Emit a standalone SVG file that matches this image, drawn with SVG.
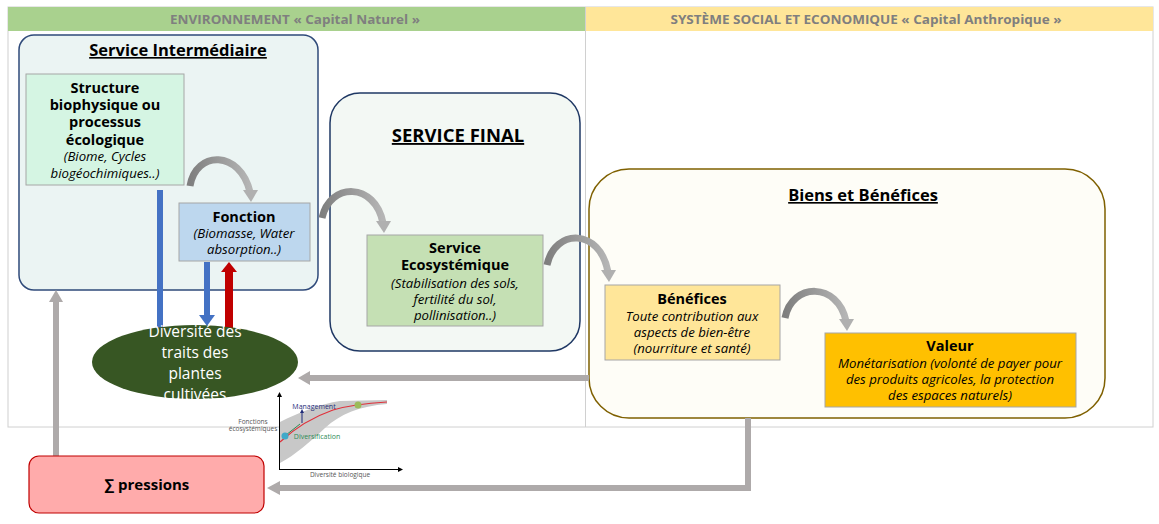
<svg xmlns="http://www.w3.org/2000/svg" width="1159" height="524" viewBox="0 0 1159 524">
<defs>
<style>
text{font-family:"Open Sans","Noto Sans","DejaVu Sans",sans-serif;text-anchor:middle;fill:#000}
.b{font-weight:bold;font-size:14.5px}
.i{font-style:italic;font-size:13.2px}
.t{font-weight:bold;font-size:16.5px;text-decoration:underline}
.hd{font-weight:bold;font-size:12.5px;fill:#7f7f7f}
.box{stroke:#a6a6a6;stroke-width:1}
.curve{fill:none;stroke:url(#cg);stroke-width:7}
.ga{fill:none;stroke:#aeaaaa;stroke-width:6}
.sm{font-size:6.5px;fill:#555}
.w{fill:#fff;font-size:15.5px}
</style>
<linearGradient id="cg" x1="0" y1="0" x2="1" y2="0">
<stop offset="0" stop-color="#7f7f7f"/>
<stop offset="1" stop-color="#b5b5b5"/>
</linearGradient>
</defs>

<g id="table">
<rect x="8" y="7" width="1145" height="420" fill="#fff" stroke="#d0d0d0"/>
<rect x="8" y="7" width="577" height="24" fill="#a9d18e"/>
<rect x="586" y="7" width="567" height="24" fill="#ffe699"/>
<line x1="585.5" y1="7" x2="585.5" y2="427" stroke="#d0d0d0"/>
<text class="hd" x="295" y="24" textLength="250" lengthAdjust="spacingAndGlyphs">ENVIRONNEMENT « Capital Naturel »</text>
<text class="hd" x="866" y="24" textLength="391" lengthAdjust="spacingAndGlyphs">SYSTÈME SOCIAL ET ECONOMIQUE « Capital Anthropique »</text>
</g>

<g id="service-intermediaire">
<rect x="19" y="35" width="299" height="255" rx="15" fill="#ebf4f3" stroke="#2f4a7a" stroke-width="1.5"/>
<text class="t" x="178" y="56">Service Intermédiaire</text>
</g>

<g id="service-final">
<rect x="330" y="93" width="250" height="258" rx="30" fill="#f3f8f4" stroke="#1f3864" stroke-width="1.5"/>
<text class="t" x="458" y="142" style="font-size:18.5px">SERVICE FINAL</text>
</g>

<g id="biens-benefices">
<rect x="589" y="169" width="516" height="249" rx="40" fill="#fefdf7" stroke="#7f6000" stroke-width="1.5"/>
<text class="t" x="863" y="201">Biens et Bénéfices</text>
</g>

<g id="connectors">
<rect x="157" y="190" width="6" height="138" fill="#4472c4"/>
<rect x="204" y="262" width="6" height="54" fill="#4472c4"/>
<polygon points="199,315 215,315 207,326" fill="#4472c4"/>
<rect x="225" y="272" width="8" height="58" fill="#c00000"/>
<polygon points="221,272 237,272 229,262" fill="#c00000"/>
<path class="curve" d="M190,186 C196,150 240,150 250,192"/>
<polygon points="243,190 258,190 251,202" fill="#b0b0b0"/>
<path class="curve" d="M322,218 C330,182 375,182 383,223"/>
<polygon points="376,221 391,221 384,233" fill="#b0b0b0"/>
<path class="curve" d="M547,265 C555,228 600,228 608,272"/>
<polygon points="601,270 616,270 609,282" fill="#b0b0b0"/>
<path class="curve" d="M785,318 C792,282 838,282 846,321"/>
<polygon points="839,319 854,319 847,331" fill="#b0b0b0"/>
<line class="ga" x1="589" y1="378" x2="310" y2="378"/>
<polygon points="310,371 310,385 298,378" fill="#aeaaaa"/>
<polyline class="ga" points="748,418 748,488 280,488"/>
<polygon points="280,481 280,495 267,488" fill="#aeaaaa"/>
<line class="ga" x1="56" y1="456" x2="56" y2="302"/>
<polygon points="49,302 63,302 56,290" fill="#aeaaaa"/>
</g>

<g id="structure">
<rect class="box" x="26" y="74" width="158" height="111" fill="#d5f5e3"/>
<text class="b" x="105" y="93">Structure</text>
<text class="b" x="105" y="110">biophysique ou</text>
<text class="b" x="105" y="127">processus</text>
<text class="b" x="105" y="145">écologique</text>
<text class="i" x="105" y="161">(Biome, Cycles</text>
<text class="i" x="105" y="178">biogéochimiques..)</text>
</g>

<g id="fonction">
<rect class="box" x="179" y="203" width="131" height="58" fill="#bdd7ee"/>
<text class="b" x="244" y="222">Fonction</text>
<text class="i" x="244" y="238">(Biomasse, Water</text>
<text class="i" x="244" y="254">absorption..)</text>
</g>

<g id="service-ecosystemique">
<rect class="box" x="367" y="235" width="176" height="91" fill="#c5e0b4"/>
<text class="b" x="455" y="253">Service</text>
<text class="b" x="455" y="270">Ecosystémique</text>
<text class="i" x="455" y="288">(Stabilisation des sols,</text>
<text class="i" x="455" y="304">fertilité du sol,</text>
<text class="i" x="455" y="320">pollinisation..)</text>
</g>

<g id="benefices">
<rect class="box" x="605" y="285" width="175" height="75" fill="#ffe699"/>
<text class="b" x="692" y="304">Bénéfices</text>
<text class="i" x="692" y="321">Toute contribution aux</text>
<text class="i" x="692" y="337">aspects de bien-être</text>
<text class="i" x="692" y="353">(nourriture et santé)</text>
</g>

<g id="valeur">
<rect class="box" x="825" y="333" width="251" height="74" fill="#ffc000"/>
<text class="b" x="950" y="351">Valeur</text>
<text class="i" x="950" y="368">Monétarisation (volonté de payer pour</text>
<text class="i" x="950" y="384">des produits agricoles, la protection</text>
<text class="i" x="950" y="400">des espaces naturels)</text>
</g>

<g id="diversite">
<ellipse cx="195" cy="362" rx="103" ry="37" fill="#375623"/>
<text class="w" x="195" y="337">Diversité des</text>
<text class="w" x="195" y="358">traits des</text>
<text class="w" x="195" y="379">plantes</text>
<text class="w" x="195" y="400">cultivées</text>
</g>

<g id="pressions">
<rect x="29" y="456" width="235" height="57" rx="10" fill="#ffabab" stroke="#c00000" stroke-width="1.2"/>
<text class="b" x="147" y="490" style="font-size:15px">∑ pressions</text>
</g>

<g id="chart">
<path d="M280,422 C300,412 320,404 340,401 L387,400 L387,404 C360,406 340,414 325,428 C310,442 295,455 280,463 Z" fill="#c8c8c8"/>
<path d="M280,442 C295,428 310,418 333,410 C350,405 370,403 387,402" fill="none" stroke="#e0303a" stroke-width="1.2"/>
<line x1="279.5" y1="469" x2="279.5" y2="396" stroke="#000" stroke-width="1"/>
<polygon points="277,397 282,397 279.5,392" fill="#000"/>
<line x1="279" y1="469.5" x2="399" y2="469.5" stroke="#000" stroke-width="1"/>
<polygon points="398,467 398,472 403,469.5" fill="#000"/>
<line x1="286" y1="435" x2="300" y2="424" stroke="#2e8b57" stroke-width="1"/>
<line x1="302" y1="423" x2="302" y2="412" stroke="#1f2d7a" stroke-width="1"/>
<polygon points="300,413 304,413 302,409" fill="#1f2d7a"/>
<circle cx="285" cy="436" r="3.5" fill="#3fa9c9"/>
<circle cx="358" cy="405" r="3.5" fill="#9bbb59"/>
<text x="314" y="409" style="font-size:7px;fill:#1f2d7a">Management</text>
<text x="317" y="439" style="font-size:7px;fill:#2e8b57">Diversification</text>
<text class="sm" x="253" y="424">Fonctions</text>
<text class="sm" x="253" y="431">écosystémiques</text>
<text class="sm" x="340" y="477">Diversité biologique</text>
</g>
</svg>
